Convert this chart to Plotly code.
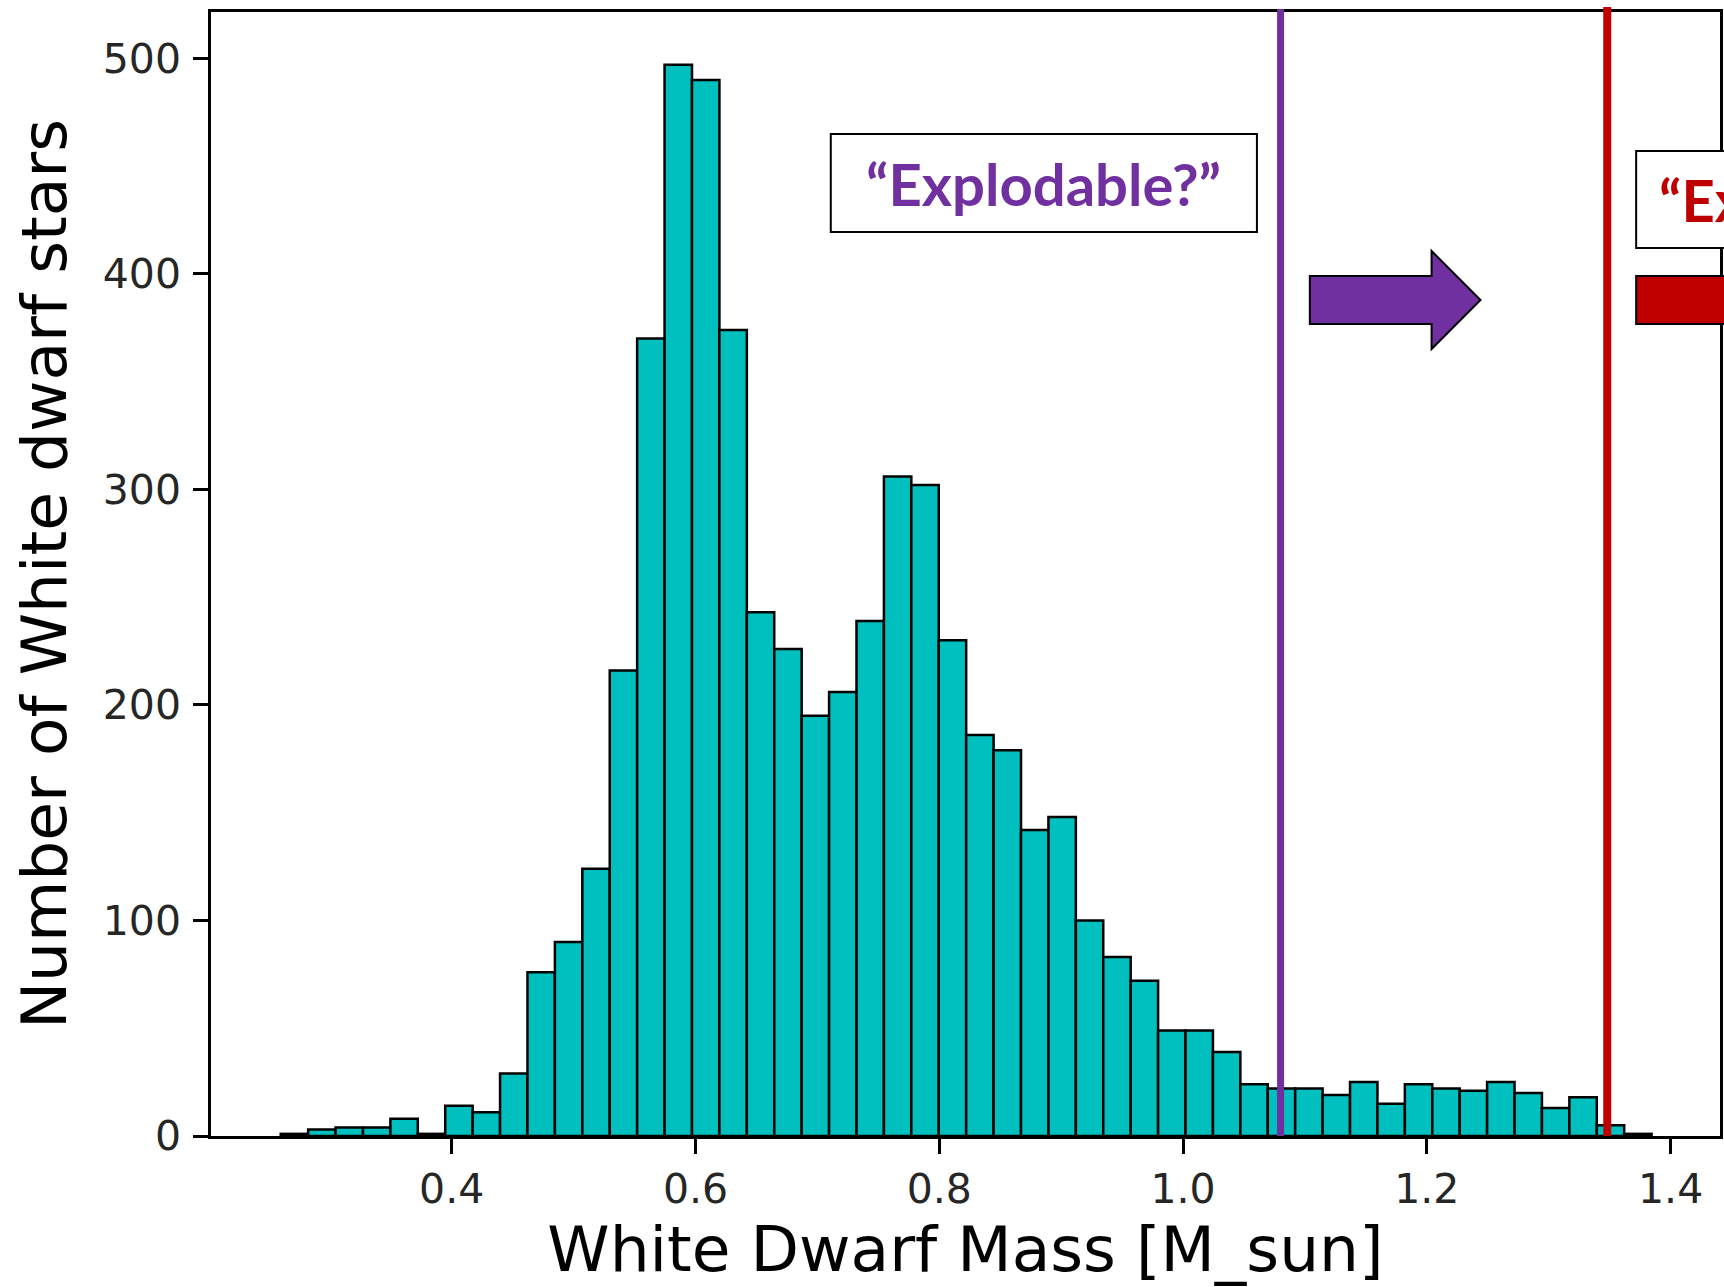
import numpy as np
import plotly.graph_objects as go

# ---------------- data ----------------
counts = [1, 3, 4, 4, 8, 1, 14, 11, 29, 76,
          90, 124, 216, 370, 497, 490, 374, 243, 226, 195,
          206, 239, 306, 302, 230, 186, 179, 142, 148, 100,
          83, 72, 49, 49, 39, 24, 22, 22, 19, 25,
          15, 24, 22, 21, 25, 20, 13, 18, 5, 1]
bin_lo = 0.2597
bin_hi = 1.3844
x_ticks = [0.4, 0.6, 0.8, 1.0, 1.2, 1.4]
y_ticks = [0, 100, 200, 300, 400, 500]
explodable_mass = 1.08
explodes_mass = 1.348
x_title = "White Dwarf Mass [M_sun]"
y_title = "Number of White dwarf stars"
purple_label = "“Explodable?”"
red_label = "“Ex"

edges = np.linspace(bin_lo, bin_hi, len(counts) + 1)
centers = (edges[:-1] + edges[1:]) / 2
widths = np.diff(edges)

# ---------------- layout geometry ----------------
W, H = 1724, 1287
L, R, T, B = 211, 1, 12, 151
PW, PH = W - L - R, H - T - B


def px(x):
    return (x - L) / PW


def py(y):
    return (H - B - y) / PH


PURPLE = "#7030A0"
RED = "#C00000"
CYAN = "#00BFBF"

fig = go.Figure()
fig.add_trace(go.Bar(
    x=centers, y=counts, width=widths,
    marker=dict(color=CYAN, line=dict(color="black", width=2.5)),
    hoverinfo="x+y", showlegend=False,
))

shapes = [
    # vertical limits
    dict(type="line", xref="x", yref="paper", x0=explodable_mass, x1=explodable_mass,
         y0=0, y1=py(9), line=dict(color=PURPLE, width=7), layer="above"),
    dict(type="line", xref="x", yref="paper", x0=explodes_mass, x1=explodes_mass,
         y0=0, y1=py(7), line=dict(color=RED, width=8), layer="above"),
    # purple label box
    dict(type="rect", xref="paper", yref="paper", x0=px(832), x1=px(1259),
         y0=py(232), y1=py(134), fillcolor="white", line=dict(color="black", width=2),
         layer="above"),
    # purple arrow
    dict(type="path", xref="paper", yref="paper",
         path=("M {a},{b} L {c},{b} L {c},{d} L {e},{f} L {c},{g} L {c},{h} L {a},{h} Z"
               .format(a=px(1312), b=py(276), c=px(1434), d=py(251), e=px(1483),
                       f=py(300), g=py(349), h=py(324))),
         fillcolor=PURPLE, line=dict(color="black", width=2), layer="above"),
    # red label box (continues past the page edge)
    dict(type="rect", xref="paper", yref="paper", x0=px(1639), x1=px(1820),
         y0=py(248), y1=py(151), fillcolor="white", line=dict(color="black", width=2),
         layer="above"),
    # red arrow shaft (continues past the page edge)
    dict(type="rect", xref="paper", yref="paper", x0=px(1639), x1=px(1820),
         y0=py(324), y1=py(276), fillcolor=RED, line=dict(color="black", width=2),
         layer="above"),
]

annotations = [
    dict(xref="paper", yref="paper", x=px(1045), y=py(184), text="<b>" + purple_label + "</b>",
         showarrow=False, xanchor="center", yanchor="middle",
         font=dict(family="Lato", size=58, color=PURPLE)),
    dict(xref="paper", yref="paper", x=px(1660), y=py(199), text="<b>" + red_label + "</b>",
         showarrow=False, xanchor="left", yanchor="middle",
         font=dict(family="Lato", size=58, color=RED)),
]

tickfont = dict(family="DejaVu Sans", size=41, color="#262626")
titlefont = dict(family="DejaVu Sans", size=63, color="black")

fig.update_layout(
    width=W, height=H,
    margin=dict(l=L, r=R, t=T, b=B, pad=0),
    paper_bgcolor="white", plot_bgcolor="white",
    shapes=shapes, annotations=annotations,
    xaxis=dict(range=[0.2025, 1.4405], tickvals=x_ticks, tickformat=".1f",
               showline=True, linecolor="black", linewidth=2.5, mirror=True,
               ticks="outside", ticklen=15, tickwidth=2.5, tickcolor="black",
               showgrid=False, zeroline=False, tickfont=tickfont,
               title=dict(text=x_title, font=titlefont, standoff=12)),
    yaxis=dict(range=[0, 521.5], tickvals=y_ticks,
               showline=True, linecolor="black", linewidth=2.5, mirror=True,
               ticks="outside", ticklen=15, tickwidth=2.5, tickcolor="black",
               ticklabelstandoff=4,
               showgrid=False, zeroline=False, tickfont=tickfont,
               title=dict(text=y_title, font=titlefont, standoff=16)),
)

fig.write_html("out.html", config={"displayModeBar": False})
